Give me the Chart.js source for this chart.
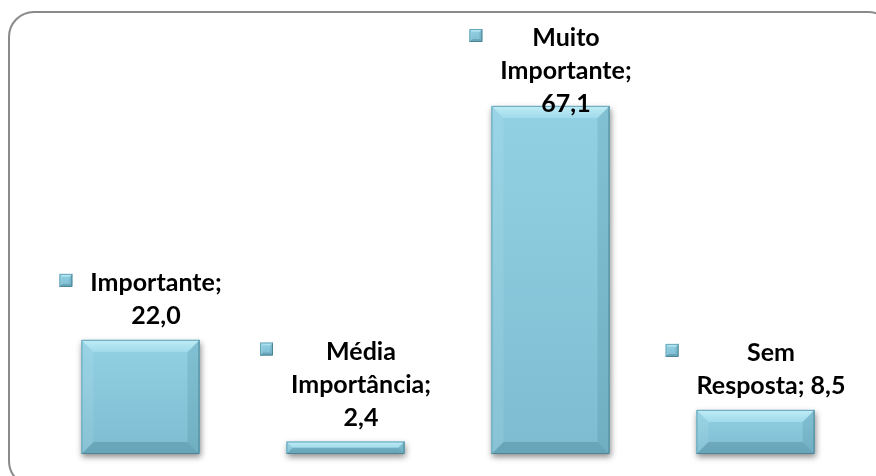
<!DOCTYPE html>
<html>
<head>
<meta charset="utf-8">
<script src="https://cdn.jsdelivr.net/npm/chart.js@4.4.1/dist/chart.umd.min.js"></script>
<style>
  html, body { margin: 0; padding: 0; background: #fff; overflow: hidden; }
  #wrap { position: relative; width: 876px; height: 476px; overflow: hidden; }
  #frame {
    position: absolute; left: 8px; top: 11px; width: 886px; height: 476px;
    border: 2px solid #8a8a8a; border-radius: 26px; box-sizing: border-box;
  }
  canvas { position: absolute; left: 0; top: 0; }
</style>
</head>
<body>
<div id="wrap">
  <div id="frame"></div>
  <canvas id="chart" width="876" height="476"></canvas>
</div>
<script>
const categories = ['Importante', 'Média Importância', 'Muito Importante', 'Sem Resposta'];
const values = [22.0, 2.4, 67.1, 8.5];

const LABEL_FONT = 'bold 25px Lato';
const LINE_H = 33;

function fmt(v) {
  return v.toFixed(1).replace('.', ',');
}

function wrapText(ctx, text, maxW) {
  const words = text.split(' ');
  const lines = [];
  let cur = '';
  words.forEach(w => {
    const test = cur ? cur + ' ' + w : w;
    if (cur && ctx.measureText(test).width > maxW) {
      lines.push(cur);
      cur = w;
    } else {
      cur = test;
    }
  });
  if (cur) lines.push(cur);
  return lines;
}

function bevelBox(ctx, l, t, r, b, size) {
  const h = b - t, w = r - l;
  const s = Math.min(size, h / 2, w / 2);

  // face shading
  const g = ctx.createLinearGradient(0, t, 0, b);
  g.addColorStop(0, '#92d1e4');
  g.addColorStop(1, '#7ebdd1');
  ctx.fillStyle = g;
  ctx.fillRect(l, t, w, h);

  // top bevel
  ctx.beginPath();
  ctx.moveTo(l, t); ctx.lineTo(r, t); ctx.lineTo(r - s, t + s); ctx.lineTo(l + s, t + s);
  ctx.closePath();
  const gt = ctx.createLinearGradient(0, t, 0, t + s);
  gt.addColorStop(0, '#c0ecf6');
  gt.addColorStop(1, '#a0dbeb');
  ctx.fillStyle = gt;
  ctx.fill();

  // left bevel
  ctx.beginPath();
  ctx.moveTo(l, t); ctx.lineTo(l + s, t + s); ctx.lineTo(l + s, b - s); ctx.lineTo(l, b);
  ctx.closePath();
  ctx.fillStyle = 'rgba(255,255,255,0.08)';
  ctx.fill();

  // right bevel
  ctx.beginPath();
  ctx.moveTo(r, t); ctx.lineTo(r, b); ctx.lineTo(r - s, b - s); ctx.lineTo(r - s, t + s);
  ctx.closePath();
  ctx.fillStyle = 'rgba(20,70,90,0.12)';
  ctx.fill();

  // bottom bevel
  ctx.beginPath();
  ctx.moveTo(l, b); ctx.lineTo(r, b); ctx.lineTo(r - s, b - s); ctx.lineTo(l + s, b - s);
  ctx.closePath();
  ctx.fillStyle = 'rgba(20,70,90,0.20)';
  ctx.fill();

  // edges
  ctx.lineWidth = 1;
  ctx.strokeStyle = '#4c8395';
  ctx.beginPath();
  ctx.moveTo(r - 0.5, t); ctx.lineTo(r - 0.5, b - 0.5); ctx.lineTo(l, b - 0.5);
  ctx.stroke();
  ctx.strokeStyle = '#6aa7ba';
  ctx.beginPath();
  ctx.moveTo(l + 0.5, b); ctx.lineTo(l + 0.5, t + 0.5); ctx.lineTo(r, t + 0.5);
  ctx.stroke();
}

// shadow under bars + bevel look on top of the library's bars
const bevelPlugin = {
  id: 'bevel',
  beforeDatasetsDraw(chart) {
    const ctx = chart.ctx;
    ctx.save();
    chart.getDatasetMeta(0).data.forEach(bar => {
      const l = bar.x - bar.width / 2, r = bar.x + bar.width / 2;
      ctx.shadowColor = 'rgba(0,0,0,0.45)';
      ctx.shadowBlur = 6;
      ctx.shadowOffsetX = 1;
      ctx.shadowOffsetY = 3;
      ctx.fillStyle = '#7dbdd2';
      ctx.fillRect(l, bar.y, r - l, bar.base - bar.y);
    });
    ctx.restore();
  },
  afterDatasetsDraw(chart) {
    const ctx = chart.ctx;
    ctx.save();
    chart.getDatasetMeta(0).data.forEach(bar => {
      bevelBox(ctx, bar.x - bar.width / 2, bar.y, bar.x + bar.width / 2, bar.base, 12);
    });
    ctx.restore();
  }
};

// Excel-style data labels: legend key + "category; value", wrapped
const labelPlugin = {
  id: 'barLabels',
  afterDraw(chart) {
    const ctx = chart.ctx;
    const keySize = 13, keyGap = 18;
    chart.getDatasetMeta(0).data.forEach((bar, i) => {
      ctx.save();
      ctx.font = LABEL_FONT;
      const text = categories[i] + '; ' + fmt(values[i]);
      const lines = wrapText(ctx, text, 152);
      const w = Math.max(...lines.map(s => ctx.measureText(s).width));
      const total = keySize + keyGap + w;
      const left = bar.x - total / 2;
      const cx = left + keySize + keyGap + w / 2;
      let first = bar.y - 16 - (lines.length - 1) * LINE_H;
      if (first < 46) first = 46;
      ctx.fillStyle = '#000';
      ctx.textAlign = 'center';
      ctx.textBaseline = 'alphabetic';
      lines.forEach((s, j) => ctx.fillText(s, cx, first + j * LINE_H));
      bevelBox(ctx, left, first - 17, left + keySize, first - 17 + keySize, 3);
      ctx.restore();
    });
  }
};

new Chart(document.getElementById('chart'), {
  type: 'bar',
  data: {
    labels: categories,
    datasets: [{
      data: values,
      backgroundColor: '#88c9dd',
      borderWidth: 0,
      categoryPercentage: 1,
      barPercentage: 0.576
    }]
  },
  options: {
    responsive: false,
    animation: false,
    layout: { padding: { left: 38, right: 18, top: 39, bottom: 22 } },
    plugins: {
      legend: { display: false },
      tooltip: { enabled: false }
    },
    scales: {
      x: { display: false },
      y: { display: false, min: 0, max: 80 }
    }
  },
  plugins: [bevelPlugin, labelPlugin]
});
</script>
</body>
</html>
